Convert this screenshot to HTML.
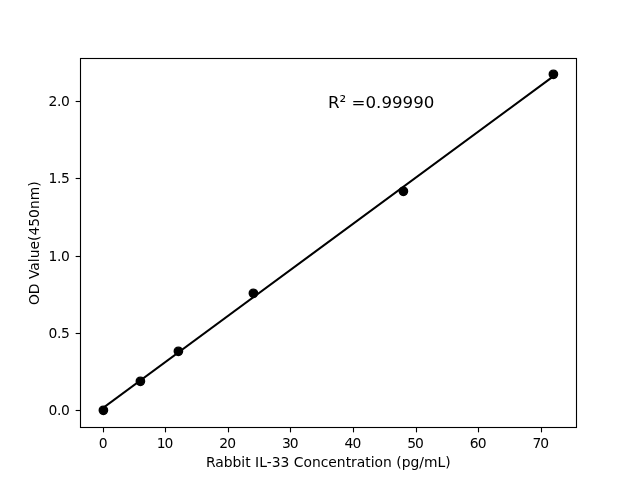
<!DOCTYPE html>
<html lang="en"><head><meta charset="utf-8"><title>Rabbit IL-33 standard curve</title>
<style>html,body{margin:0;padding:0;background:#fff;overflow:hidden}body{width:640px;height:480px}</style></head>
<body>
<svg width="640" height="480" viewBox="0 0 640 480" style="display:block" font-family="'DejaVu Sans', 'Liberation Sans', sans-serif" fill="#000">
<rect width="640" height="480" fill="#fff"/>
<line x1="103.5" y1="427.5" x2="103.5" y2="432.36" stroke="#000" stroke-width="1.111"/>
<text x="103.15" y="448" font-size="13.889" text-anchor="middle">0</text>
<line x1="165.5" y1="427.5" x2="165.5" y2="432.36" stroke="#000" stroke-width="1.111"/>
<text x="164.57" y="448" font-size="13.889" text-anchor="middle" letter-spacing="-1.0">10</text>
<line x1="228.5" y1="427.5" x2="228.5" y2="432.36" stroke="#000" stroke-width="1.111"/>
<text x="227.20" y="448" font-size="13.889" text-anchor="middle" letter-spacing="-1.0">20</text>
<line x1="290.5" y1="427.5" x2="290.5" y2="432.36" stroke="#000" stroke-width="1.111"/>
<text x="289.82" y="448" font-size="13.889" text-anchor="middle" letter-spacing="-1.0">30</text>
<line x1="353.5" y1="427.5" x2="353.5" y2="432.36" stroke="#000" stroke-width="1.111"/>
<text x="352.45" y="448" font-size="13.889" text-anchor="middle" letter-spacing="-1.0">40</text>
<line x1="416.5" y1="427.5" x2="416.5" y2="432.36" stroke="#000" stroke-width="1.111"/>
<text x="415.08" y="448" font-size="13.889" text-anchor="middle" letter-spacing="-1.0">50</text>
<line x1="478.5" y1="427.5" x2="478.5" y2="432.36" stroke="#000" stroke-width="1.111"/>
<text x="477.70" y="448" font-size="13.889" text-anchor="middle" letter-spacing="-1.0">60</text>
<line x1="541.5" y1="427.5" x2="541.5" y2="432.36" stroke="#000" stroke-width="1.111"/>
<text x="540.33" y="448" font-size="13.889" text-anchor="middle" letter-spacing="-1.0">70</text>
<line x1="80.5" y1="410.5" x2="75.64" y2="410.5" stroke="#000" stroke-width="1.111"/>
<text x="69.58" y="415.20" font-size="13.889" text-anchor="end" letter-spacing="-0.3">0.0</text>
<line x1="80.5" y1="333.5" x2="75.64" y2="333.5" stroke="#000" stroke-width="1.111"/>
<text x="69.58" y="338.20" font-size="13.889" text-anchor="end" letter-spacing="-0.3">0.5</text>
<line x1="80.5" y1="256.5" x2="75.64" y2="256.5" stroke="#000" stroke-width="1.111"/>
<text x="69.58" y="261.20" font-size="13.889" text-anchor="end" letter-spacing="-0.3">1.0</text>
<line x1="80.5" y1="178.5" x2="75.64" y2="178.5" stroke="#000" stroke-width="1.111"/>
<text x="69.58" y="183.20" font-size="13.889" text-anchor="end" letter-spacing="-0.3">1.5</text>
<line x1="80.5" y1="101.5" x2="75.64" y2="101.5" stroke="#000" stroke-width="1.111"/>
<text x="69.58" y="106.20" font-size="13.889" text-anchor="end" letter-spacing="-0.3">2.0</text>
<line x1="102.55" y1="408.32" x2="553.45" y2="76.20" stroke="#000" stroke-width="2.083" stroke-linecap="square"/>
<circle cx="103.4" cy="410.3" r="4.167" stroke="#000" stroke-width="1.389"/>
<circle cx="140.4" cy="381.3" r="4.167" stroke="#000" stroke-width="1.389"/>
<circle cx="178.4" cy="351.3" r="4.167" stroke="#000" stroke-width="1.389"/>
<circle cx="253.4" cy="293.3" r="4.167" stroke="#000" stroke-width="1.389"/>
<circle cx="403.4" cy="191.3" r="4.167" stroke="#000" stroke-width="1.389"/>
<circle cx="553.4" cy="74.3" r="4.167" stroke="#000" stroke-width="1.389"/>
<rect x="80.5" y="58.5" width="496.0" height="369.0" fill="none" stroke="#000" stroke-width="1.111"/>
<text x="328.30" y="467.2" font-size="13.889" text-anchor="middle">Rabbit IL-33 Concentration (pg/mL)</text>
<text transform="translate(38.8 243.20) rotate(-90)" font-size="13.889" text-anchor="middle">OD Value(450nm)</text>
<text x="328.00" y="107.50" font-size="16.667">R² =0.99990</text>
</svg>
</body></html>
